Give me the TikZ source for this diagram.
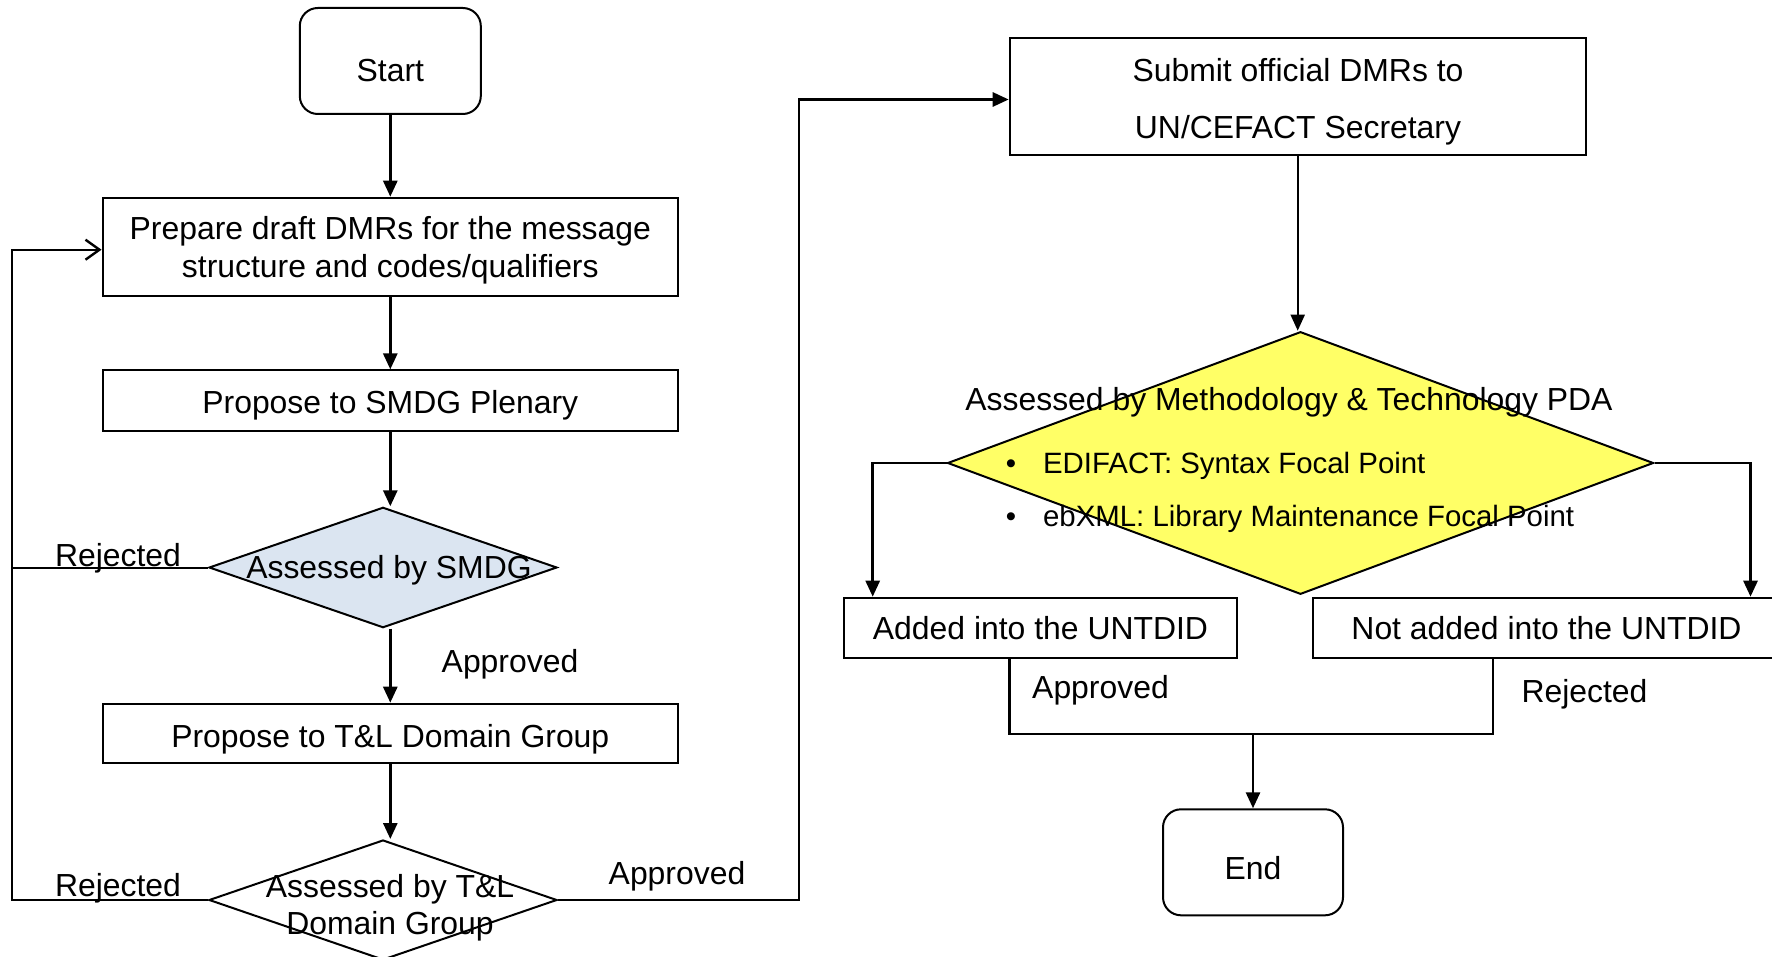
\documentclass[tikz,border=0pt]{standalone}
\usepackage{fontspec}
\setmainfont{Liberation Sans}
\usetikzlibrary{shapes.geometric,arrows.meta,calc}
\definecolor{smdgblue}{RGB}{219,229,241}
\definecolor{pdayellow}{RGB}{255,255,102}
\begin{document}
\begin{tikzpicture}[x=0.5pt,y=-0.5pt,
  every node/.style={font=\fontsize{15.95pt}{19.5pt}\selectfont},
  box/.style={draw, line width=1pt, inner sep=0pt, align=center, text depth=0pt},
  term/.style={box, rounded corners=9pt},
  dia/.style={draw, diamond, line width=1pt, inner sep=0pt},
  txt/.style={inner sep=0pt, anchor=base},
  small/.style={font=\fontsize{14.7pt}{18pt}\selectfont},
  line/.style={line width=1.1pt},
  arr/.style={line width=1.4pt, -{Triangle[length=8pt,width=7pt]}},
  openarr/.style={line width=1pt, -{Straight Barb[length=7pt,width=10pt,line width=1.2pt]}}]
\useasboundingbox (0,0) rectangle (1772,957);
\clip (0,0) rectangle (1772,957);

% left column
\node[term, minimum width=90.5pt, minimum height=53pt, text height=21pt] (start) at (390.3,61) {Start};
\node[box, minimum width=287.75pt, minimum height=49pt] (prep) at (390.3,246.7) {};
\node[txt] (prept1) at (390.3,239.3) {Prepare draft DMRs for the message};
\node[txt] (prept2) at (390.3,277.3) {structure and codes/qualifiers};
\node[box, minimum width=287.75pt, minimum height=30.3pt, text height=13.2pt] (psmdg) at (390.3,400.7) {Propose to SMDG Plenary};
\node[dia, fill=smdgblue, minimum width=174pt, minimum height=60.2pt] (dsmdg) at (383,567.5) {};
\node[txt] (dsmdgt) at (389,578.3) {Assessed by SMDG};
\node[txt] (rej1) at (118,566) {Rejected};
\node[txt] (app1) at (510,672.7) {Approved};
\node[box, minimum width=287.75pt, minimum height=29.8pt, text height=13.7pt] (ptl) at (390.3,733.5) {Propose to T\&L Domain Group};
\node[dia, minimum width=174pt, minimum height=60pt] (dtl) at (383,900) {};
\node[txt] (dtlt1) at (390,897.7) {Assessed by T\&L};
\node[txt] (dtlt2) at (390,934) {Domain Group};
\node[txt] (rej2) at (118,896.7) {Rejected};
\node[txt] (app2) at (677,884) {Approved};

% right column
\node[box, minimum width=288pt, minimum height=58.35pt] (submit) at (1297.7,96.7) {};
\node[txt] (subt1) at (1298,82) {Submit official DMRs to};
\node[txt] (subt2) at (1298,139) {UN/CEFACT Secretary};
\node[dia, fill=pdayellow, minimum width=353pt, minimum height=131.3pt] (pda) at (1300.5,463) {};
\node[txt] (pdat) at (1289,410.7) {Assessed by Methodology \& Technology PDA};
\node[txt, small, anchor=base west] (pdab1) at (1005.5,473.3) {\makebox[18.6pt][l]{\textbullet}EDIFACT: Syntax Focal Point};
\node[txt, small, anchor=base west] (pdab2) at (1005.5,526.7) {\makebox[18.6pt][l]{\textbullet}ebXML: Library Maintenance Focal Point};
\node[box, minimum width=196.5pt, minimum height=30pt, text height=11.8pt] (added) at (1040.5,627.7) {Added into the UNTDID};
\node[box, minimum width=233.5pt, minimum height=30pt, text height=11.8pt] (notadded) at (1546.5,627.7) {Not added into the UNTDID};
\node[txt] (app3) at (1100.5,698.3) {Approved};
\node[txt] (rej3) at (1584.5,702.7) {Rejected};
\node[term, minimum width=90pt, minimum height=53pt, text height=16.9pt] (end) at (1253,862.3) {End};

% helper coordinates
\coordinate (lx) at (12.2,0);
\coordinate (rx) at (799,0);
\coordinate (my) at (0,734);
\coordinate (pin) at ($(prep.west)+(0,3)$);
\coordinate (sin) at ($(submit.west)+(0,2.8)$);
\coordinate (ma) at ($(added.south west)+(166.4,0)$);
\coordinate (mb) at ($(notadded.south west)+(181,0)$);
\coordinate (la) at ($(added.north west)+(29.7,0)$);
\coordinate (ra) at ($(notadded.north west)+(438.5,0)$);

% connectors
\draw[arr] (start) -- (prep);
\draw[arr] (prep) -- (psmdg);
\draw[arr] (psmdg.south) -- (psmdg.south |- dsmdg.north);
\draw[arr] (ptl.north |- dsmdg.south) -- (ptl.north);
\draw[arr] (ptl.south) -- (ptl.south |- dtl.north);
\draw[openarr] (dtl.west) -- (dtl.west -| lx) |- (pin);
\draw[line, line width=1pt] (dsmdg.west) -- (dsmdg.west -| lx);
\draw[arr] (dtl.east) -| (rx |- sin) -- (sin);
\draw[arr, line width=1pt] (submit.south) -- (submit.south |- pda.north);
\draw[arr] (pda.west) -| (la);
\draw[arr] (pda.east) -| (ra);
\draw[line] (ma) -- (ma |- my) -- (mb |- my) -- (mb);
\draw[arr] (end.north |- my) -- (end.north);
\end{tikzpicture}
\end{document}
